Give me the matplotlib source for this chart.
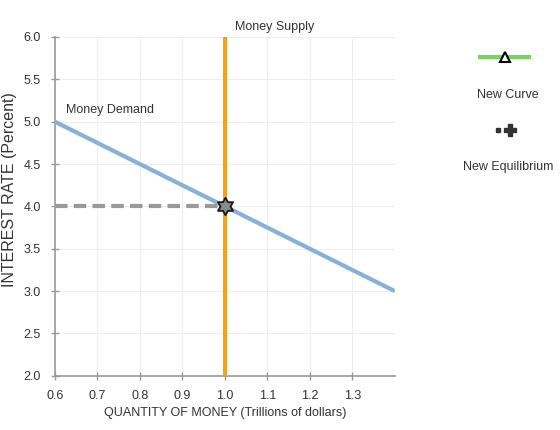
import matplotlib

matplotlib.use("Agg")
import numpy as np
import matplotlib.pyplot as plt
from matplotlib.lines import Line2D
from matplotlib.path import Path

plt.rcParams["font.family"] = ["Liberation Sans", "DejaVu Sans"]

# Data
demand_q = [0.6, 1.4]
demand_r = [5.0, 3.0]
supply_q = [1.0, 1.0]
supply_r = [2.0, 6.0]
eq_q = 1.0
eq_r = 4.0
x_ticks = [0.6, 0.7, 0.8, 0.9, 1.0, 1.1, 1.2, 1.3]
y_ticks = [2.0, 2.5, 3.0, 3.5, 4.0, 4.5, 5.0, 5.5, 6.0]

TEXT = "#333333"
AXIS = "#999999"
FS = 9

# hexagram marker (star of David outline)
ang = np.pi / 2 + np.arange(12) * np.pi / 6
rad = np.where(np.arange(12) % 2 == 0, 1.0, 0.577)
verts = np.column_stack([rad * np.cos(ang), rad * np.sin(ang)])
verts = np.vstack([verts, verts[:1]])
hexagram = Path(verts, closed=True)

fig = plt.figure(figsize=(5.6, 4.3), dpi=100, facecolor="white")
ax = fig.add_axes([0.098, 0.126, 0.607, 0.788])

ax.set_xlim(0.6, 1.4)
ax.set_ylim(2.0, 6.0)
ax.set_xticks(x_ticks)
ax.set_yticks(y_ticks)
ax.set_xticklabels([f"{v:.1f}" for v in x_ticks])
ax.set_yticklabels([f"{v:.1f}" for v in y_ticks])
ax.grid(True, color="#eeeeee", linewidth=0.8, zorder=0)
ax.tick_params(direction="inout", length=6, color=AXIS, labelsize=FS,
               labelcolor=TEXT, width=1)
ax.tick_params(axis="y", pad=7)
ax.tick_params(axis="x", pad=7)
for side in ["top", "right"]:
    ax.spines[side].set_visible(False)
for side in ["left", "bottom"]:
    ax.spines[side].set_color(AXIS)
    ax.spines[side].set_linewidth(1.2)

# Money demand
ax.plot(demand_q, demand_r, color="#8ab0d5", linewidth=3, zorder=3,
        solid_capstyle="butt")
ax.text(0.626, 5.07, "Money Demand", fontsize=FS, color=TEXT,
        ha="left", va="bottom")

# Money supply
ax.plot(supply_q, supply_r, color="#f7a01b", linewidth=3, zorder=4,
        solid_capstyle="butt")
ax.text(1.025, 6.05, "Money Supply", fontsize=FS, color=TEXT,
        ha="left", va="bottom", clip_on=False)

# Equilibrium guide and point
ax.plot([0.6, eq_q], [eq_r, eq_r], color="#999999", linewidth=3,
        linestyle=(0, (3, 1.5)), zorder=2)
ax.plot([eq_q], [eq_r], marker=hexagram, markersize=12.5,
        markerfacecolor="#8a8a8a", markeredgecolor="#1a1a1a",
        markeredgewidth=1.3, zorder=6, clip_on=False)

ax.set_xlabel("QUANTITY OF MONEY (Trillions of dollars)", fontsize=FS,
              color=TEXT, labelpad=4)
fig.text(0.017, 0.56, "INTEREST RATE (Percent)", fontsize=11.5, color=TEXT,
         rotation=90, ha="center", va="center")

# Legend-like palette on the right
fig.add_artist(Line2D([0.857, 0.945], [0.867, 0.867], color="#78d264",
                      linewidth=3, transform=fig.transFigure))
fig.add_artist(Line2D([0.901], [0.867], marker="^", markersize=7,
                      markerfacecolor="white", markeredgecolor="black",
                      markeredgewidth=1.5, transform=fig.transFigure))
fig.text(0.907, 0.779, "New Curve", fontsize=FS, color=TEXT,
         ha="center", va="center")

fig.add_artist(Line2D([0.889], [0.697], marker="s", markersize=3,
                      color="#333333", linestyle="none",
                      transform=fig.transFigure))
fig.add_artist(Line2D([0.910], [0.697], marker="P", markersize=8,
                      color="#333333", linestyle="none",
                      transform=fig.transFigure))
fig.text(0.907, 0.611, "New Equilibrium", fontsize=FS, color=TEXT,
         ha="center", va="center")

fig.savefig("out.png", dpi=100, facecolor="white")
